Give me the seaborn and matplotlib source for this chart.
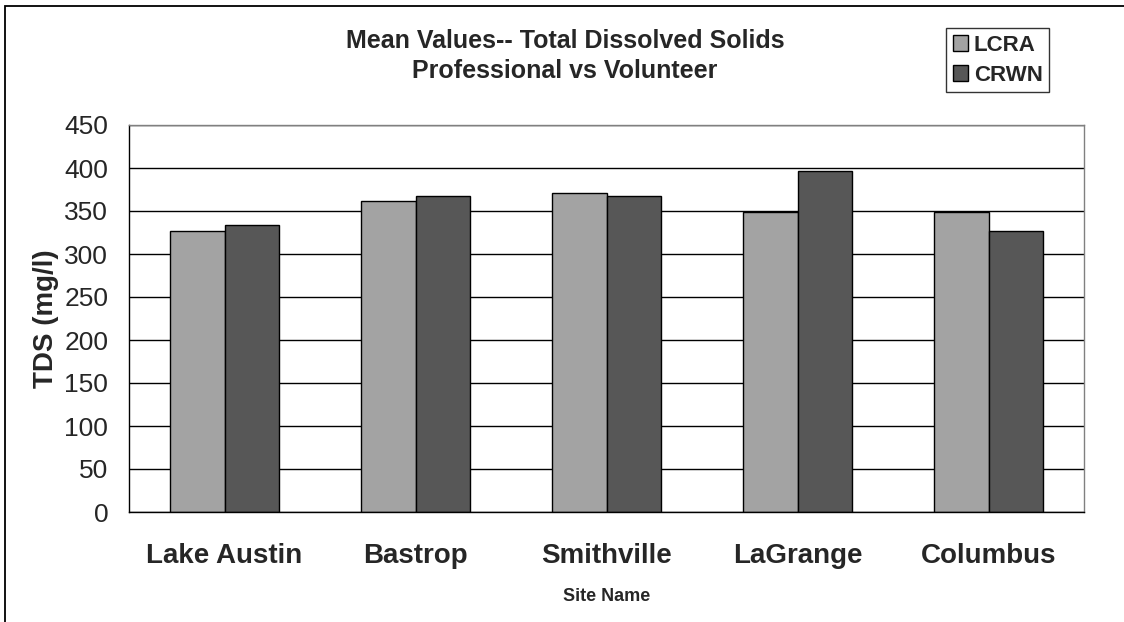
import pandas as pd
import numpy as np
import matplotlib
matplotlib.use('Agg')
import matplotlib.pyplot as plt
import seaborn as sns
from matplotlib.patches import Rectangle

sites = ['Lake Austin', 'Bastrop', 'Smithville', 'LaGrange', 'Columbus']
lcra = [327, 362, 371, 349, 349]
crwn = [334, 368, 368, 396, 327]
series = ['LCRA', 'CRWN']
colors = ['#a3a3a3', '#575757']

df = pd.DataFrame({
    'Site Name': sites * 2,
    'TDS': lcra + crwn,
    'Source': ['LCRA'] * len(sites) + ['CRWN'] * len(sites),
})

sns.set_style("white")
plt.rcParams['font.family'] = ['Liberation Sans', 'DejaVu Sans']

fig = plt.figure(figsize=(11.24, 6.22), dpi=100)
W, H = 1124, 622
ax = fig.add_axes([129 / W, (H - 512) / H, 955 / W, (512 - 125) / H])

sns.barplot(data=df, x='Site Name', y='TDS', hue='Source', hue_order=series,
            palette=colors, width=0.575, edgecolor='black', linewidth=1,
            saturation=1, ax=ax)

ax.set_ylim(0, 450)
ax.set_xlim(-0.5, len(sites) - 0.5)
ax.set_yticks(np.arange(0, 451, 50))
ax.yaxis.grid(True, color='black', linewidth=1)
ax.set_axisbelow(True)

# labels at category centres, tick marks at category boundaries
ax.set_xticks(np.arange(len(sites)))
ax.set_xticklabels(sites, fontsize=20, fontweight='bold')
ax.set_xticks(np.arange(-0.5, len(sites)), minor=True)
ax.tick_params(axis='x', which='major', length=0, pad=22)
ax.tick_params(axis='x', which='minor', length=8, width=1, color='black', direction='out')
ax.tick_params(axis='y', length=10, width=1, color='black', direction='out', labelsize=19, pad=5)

for side in ['left', 'bottom']:
    ax.spines[side].set_color('black')
    ax.spines[side].set_linewidth(1)
for side in ['top', 'right']:
    ax.spines[side].set_color('#808080')
    ax.spines[side].set_linewidth(1)

ax.set_xlabel('Site Name', fontsize=13, fontweight='bold', labelpad=14)
ax.set_ylabel('TDS (mg/l)', fontsize=20, fontweight='bold', labelpad=4)

fig.text(565 / W, 1 - 56 / H, 'Mean Values-- Total Dissolved Solids\nProfessional vs Volunteer',
         ha='center', va='center', fontsize=18, fontweight='bold', linespacing=1.3)

handles, labels = ax.get_legend_handles_labels()
leg = ax.legend(handles, labels, loc='upper left', bbox_to_anchor=(946 / W, 1 - 28 / H),
                bbox_transform=fig.transFigure, borderaxespad=0, fancybox=False,
                frameon=True, edgecolor='black', prop={'size': 16, 'weight': 'bold'},
                handlelength=0.7, handleheight=0.7, handletextpad=0.25,
                borderpad=0.3, labelspacing=0.4)
leg.get_frame().set_linewidth(1)

# chart-area border
fig.patches.append(Rectangle((5 / W, -0.05), 1.2, 1 - 6 / H + 0.05, transform=fig.transFigure,
                             fill=False, edgecolor='black', linewidth=1.3))

fig.savefig('out.png', dpi=100)
